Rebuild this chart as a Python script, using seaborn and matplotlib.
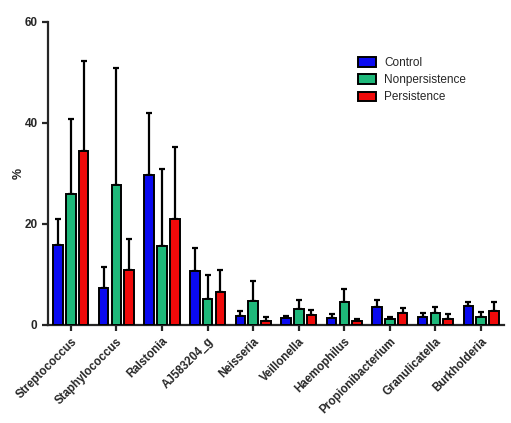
import numpy as np
import pandas as pd
import matplotlib
matplotlib.use("Agg")
import matplotlib.pyplot as plt
import seaborn as sns

# Mean relative abundance (%) and mean + SD (top of error bar)
genera = ["Streptococcus", "Staphylococcus", "Ralstonia", "AJ583204_g", "Neisseria",
          "Veillonella", "Haemophilus", "Propionibacterium", "Granulicatella", "Burkholderia"]
groups = ["Control", "Nonpersistence", "Persistence"]

control_mean = [15.8, 7.3, 29.8, 10.7, 1.7, 1.3, 1.4, 3.6, 1.6, 3.8]
control_top = [20.9, 11.5, 42.0, 15.3, 2.8, 1.8, 2.2, 4.9, 2.3, 4.5]
nonpers_mean = [25.9, 27.7, 15.7, 5.1, 4.7, 3.2, 4.5, 1.2, 2.3, 1.5]
nonpers_top = [40.8, 50.9, 30.8, 9.9, 8.7, 4.9, 7.1, 1.6, 3.5, 2.5]
pers_mean = [34.4, 10.9, 20.9, 6.6, 0.85, 2.0, 0.8, 2.3, 1.1, 2.8]
pers_top = [52.2, 17.1, 35.2, 10.9, 1.6, 3.0, 1.1, 3.3, 2.2, 4.6]

colors = ["#0A0AF0", "#1EB87A", "#F00A0A"]

df = pd.DataFrame({
    "genus": genera * 3,
    "group": np.repeat(groups, len(genera)),
    "mean": control_mean + nonpers_mean + pers_mean,
    "top": control_top + nonpers_top + pers_top,
})

sns.set_style("ticks")
plt.rcParams["font.family"] = ["Liberation Sans", "DejaVu Sans"]

fig = plt.figure(figsize=(5.11, 4.23), dpi=100)
ax = fig.add_axes([0.094, 0.2317, 0.892, 0.7163])

sns.barplot(data=df, x="genus", y="mean", hue="group", order=genera, hue_order=groups,
            palette=colors, saturation=1, width=0.84, gap=0.25, errorbar=None,
            edgecolor="black", linewidth=1.4, ax=ax, zorder=3)

# upward-only error bars at the bar centres
for i, g in enumerate(groups):
    sub = df[df["group"] == g].set_index("genus").loc[genera]
    patches = ax.containers[i].patches
    xs = [p.get_x() + p.get_width() / 2 for p in patches]
    up = (sub["top"] - sub["mean"]).values
    ax.errorbar(xs, sub["mean"].values, yerr=[np.zeros(len(up)), up], fmt="none",
                ecolor="black", elinewidth=1.6, capsize=2.5, capthick=1.6, zorder=2)

ax.set_xlim(-0.5, 9.5)
ax.set_ylim(0, 60)
ax.set_yticks([0, 20, 40, 60])
ax.set_xlabel("")
ax.set_ylabel("%", fontsize=9, fontweight="bold")
ax.yaxis.set_label_coords(-0.05, 0.5)
ax.tick_params(axis="both", width=1.6, length=4, direction="out", labelsize=8.5)
for lab in ax.get_yticklabels():
    lab.set_fontweight("bold")
ax.set_xticks(range(len(genera)))
ax.set_xticklabels(genera, rotation=45, ha="right", rotation_mode="anchor",
                   fontweight="bold", fontsize=8.3)
for s in ["left", "bottom"]:
    ax.spines[s].set_linewidth(1.6)
sns.despine(ax=ax)

handles, labels = ax.get_legend_handles_labels()
ax.legend(handles, labels, loc="upper left", bbox_to_anchor=(0.657, 0.92), frameon=False,
          fontsize=8.5, handlelength=1.5, handleheight=0.9, handletextpad=0.7,
          labelspacing=0.45)

fig.savefig("out.png", dpi=100)
